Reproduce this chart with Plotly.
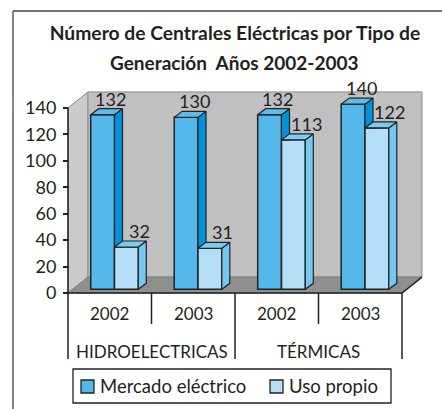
import plotly.graph_objects as go

# ---------------- data ----------------
years = ["2002", "2003", "2002", "2003"]
groups = ["HIDROELECTRICAS", "TÉRMICAS"]
series_names = ["Mercado eléctrico", "Uso propio"]
mercado = [132, 130, 132, 140]
uso_propio = [32, 31, 113, 122]
y_ticks = [0, 20, 40, 60, 80, 100, 120, 140]
title_line1 = "Número de Centrales Eléctricas por Tipo de"
title_line2 = "Generación  Años 2002-2003"

# ---------------- layout geometry ----------------
FW, FH = 442, 409
L, T, PW, PH = 60, 88, 371, 209
R, B = FW - L - PW, FH - T - PH
CAT = 83.5                       # px per category
XMIN = -0.5 - (68 - L) / CAT
XMAX = XMIN + PW / CAT
YMIN, YMAX = -3, 155
KY = PH / (YMAX - YMIN)           # px per unit

WX, WY = 20 / CAT, 15.9 / KY      # wall depth
BX, BY = 4.75 / CAT, 3.7 / KY     # bar front offset inside depth
DX, DY = 8 / CAT, 6 / KY          # bar depth
W = 23.8 / CAT                    # bar width

FONT = "Lato"
TXT = "#231F20"
C_M, C_M_SIDE, C_M_TOP = "#55B8EA", "#0093D9", "#5CBDEC"
C_U, C_U_SIDE, C_U_TOP = "#B4DFF6", "#74C7F0", "#7CCBF1"
EDGE = "#222222"
series_colors = [C_M, C_U]

def xp(px):
    return (px - L) / PW

def yp(py):
    return (T + PH - py) / PH

def ux(u):
    return (u - XMIN) / (XMAX - XMIN)

idx = list(range(len(years)))
off_m = BX - W
off_u = BX

fig = go.Figure()
fig.add_trace(go.Bar(x=idx, y=mercado, base=BY, width=W, offset=off_m, showlegend=False,
                     name=series_names[0], marker=dict(color=C_M, line=dict(color=EDGE, width=1.5))))
fig.add_trace(go.Bar(x=idx, y=uso_propio, base=BY, width=W, offset=off_u, showlegend=False,
                     name=series_names[1], marker=dict(color=C_U, line=dict(color=EDGE, width=1.5))))

def poly_trace(polys, color):
    xs, ys = [], []
    for p in polys:
        for (a, b) in p + [p[0]]:
            xs.append(a); ys.append(b)
        xs.append(None); ys.append(None)
    return go.Scatter(x=xs, y=ys, mode="lines", fill="toself", fillcolor=color,
                      line=dict(color=EDGE, width=1.2), showlegend=False, hoverinfo="skip")

m_side, m_top, u_side, u_top = [], [], [], []
for i in idx:
    xl = i + off_m; xr = xl + W; yt = BY + mercado[i]
    lt = BY + uso_propio[i]
    yb = max(BY, lt)
    m_side.append([(xr, yb), (xr + DX, yb), (xr + DX, yt + DY), (xr, yt)])
    m_top.append([(xl, yt), (xl + DX, yt + DY), (xr + DX, yt + DY), (xr, yt)])
    xl2 = i + off_u; xr2 = xl2 + W
    u_side.append([(xr2, BY), (xr2 + DX, BY + DY), (xr2 + DX, lt + DY), (xr2, lt)])
    u_top.append([(xl2, lt), (xl2 + DX, lt + DY), (xr2 + DX, lt + DY), (xr2, lt)])

fig.add_trace(poly_trace(m_side, C_M_SIDE))
fig.add_trace(poly_trace(m_top, C_M_TOP))
fig.add_trace(poly_trace(u_side, C_U_SIDE))
fig.add_trace(poly_trace(u_top, C_U_TOP))

shapes = []
# left wall
shapes.append(dict(type="path", xref="x", yref="y", layer="below",
                   path=f"M{-0.5},{0} L{-0.5},{140} L{-0.5+WX},{140+WY} L{-0.5+WX},{WY} Z",
                   fillcolor="#CBCBCB", line=dict(color="#8A8A8A", width=1)))
# back wall
shapes.append(dict(type="rect", xref="x", yref="y", layer="below",
                   x0=-0.5 + WX, x1=3.5 + WX, y0=WY, y1=140 + WY,
                   fillcolor="#C0C0C0", line=dict(color="#8A8A8A", width=1)))
# floor
shapes.append(dict(type="path", xref="x", yref="y", layer="below",
                   path=f"M{-0.5},{0} L{3.5},{0} L{3.5+WX},{WY} L{-0.5+WX},{WY} Z",
                   fillcolor="#8F8F8F", line=dict(color="#7A7A7A", width=1)))
shapes.append(dict(type="line", xref="x", yref="y", x0=-0.5, x1=3.5, y0=0, y1=0,
                   line=dict(color=EDGE, width=1.5)))
shapes.append(dict(type="line", xref="x", yref="y", x0=3.5, x1=3.5 + WX, y0=0, y1=WY,
                   line=dict(color=EDGE, width=1.5)))
# y axis line
shapes.append(dict(type="line", xref="x", yref="y", x0=-0.5, x1=-0.5, y0=0, y1=140,
                   line=dict(color=EDGE, width=1.5)))
# category dividers below the axis
for k in range(len(years) + 1):
    u = k - 0.5
    long = (k % 2 == 0)
    shapes.append(dict(type="line", xref="paper", yref="paper",
                       x0=ux(u), x1=ux(u), y0=yp(293), y1=yp(359 if long else 324),
                       line=dict(color=EDGE, width=1.5)))
# outer frame
shapes.append(dict(type="line", xref="paper", yref="paper", x0=xp(13), x1=xp(13),
                   y0=yp(11), y1=yp(412), line=dict(color="#444444", width=1.3)))
shapes.append(dict(type="line", xref="paper", yref="paper", x0=xp(13), x1=xp(445),
                   y0=yp(11), y1=yp(11), line=dict(color="#444444", width=1.3)))

annotations = []
# value labels
for i in idx:
    annotations.append(dict(x=i + off_m + W / 2 + 8 / CAT, y=BY + mercado[i] + DY,
                            xref="x", yref="y", text=str(mercado[i]), showarrow=False,
                            yanchor="bottom", xanchor="center", yshift=-3,
                            font=dict(family=FONT, size=18, color=TXT)))
    annotations.append(dict(x=i + off_u + W / 2 + 13 / CAT, y=BY + uso_propio[i] + DY,
                            xref="x", yref="y", text=str(uso_propio[i]), showarrow=False,
                            yanchor="bottom", xanchor="center", yshift=-3,
                            font=dict(family=FONT, size=18, color=TXT)))
# category labels
for i, yr in enumerate(years):
    annotations.append(dict(x=ux(i), y=yp(313), xref="paper", yref="paper", text=yr,
                            showarrow=False, xanchor="center", yanchor="middle",
                            font=dict(family=FONT, size=17, color=TXT)))
for g, name in enumerate(groups):
    annotations.append(dict(x=ux(2 * g + 0.5), y=yp(351), xref="paper", yref="paper", text=name,
                            showarrow=False, xanchor="center", yanchor="middle",
                            font=dict(family=FONT, size=17, color=TXT)))
# title second line
annotations.append(dict(x=xp(234), y=yp(63), xref="paper", yref="paper", text=title_line2,
                        showarrow=False, xanchor="center", yanchor="middle",
                        font=dict(family=FONT, size=19, color=TXT, weight="bold")))

# legend (box, swatches, labels)
shapes.append(dict(type="rect", xref="paper", yref="paper", x0=xp(73), x1=xp(391),
                   y0=yp(369), y1=yp(403), fillcolor="white",
                   line=dict(color=EDGE, width=1.3)))
legend_slots = [(81, 98), (270, 287)]
for (sx, tx), name, col in zip(legend_slots, series_names, series_colors):
    shapes.append(dict(type="rect", xref="paper", yref="paper", x0=xp(sx), x1=xp(sx + 13),
                       y0=yp(380), y1=yp(393), fillcolor=col, line=dict(color=EDGE, width=1.3)))
    annotations.append(dict(x=xp(tx), y=yp(386), xref="paper", yref="paper", text=name,
                            showarrow=False, xanchor="left", yanchor="middle",
                            font=dict(family=FONT, size=18.5, color=TXT)))

fig.update_layout(
    width=FW, height=FH,
    margin=dict(l=L, r=R, t=T, b=B, pad=0, autoexpand=False),
    paper_bgcolor="white", plot_bgcolor="rgba(0,0,0,0)",
    title=dict(text=title_line1, x=235 / FW, xref="container", xanchor="center",
               y=1 - 33.7 / FH, yref="container", yanchor="middle", automargin=False,
               font=dict(family=FONT, size=19.3, color=TXT, weight="bold")),
    xaxis=dict(range=[XMIN, XMAX], visible=False, fixedrange=True, automargin=False),
    yaxis=dict(range=[YMIN, YMAX], tickvals=y_ticks, ticktext=[str(v) for v in y_ticks],
               showgrid=False, zeroline=False, showline=False, automargin=False,
               ticks="outside", ticklen=5, tickwidth=1.5, tickcolor=EDGE,
               anchor="free", position=(68 - L) / PW, ticklabelstandoff=3,
               tickfont=dict(family=FONT, size=18, color=TXT), fixedrange=True),
    barmode="overlay",
    shapes=shapes, annotations=annotations,
    showlegend=False,
)

fig.write_html("out.html", config={"displayModeBar": False},
               post_script="document.body.style.margin='0';document.body.style.overflow='hidden';")
